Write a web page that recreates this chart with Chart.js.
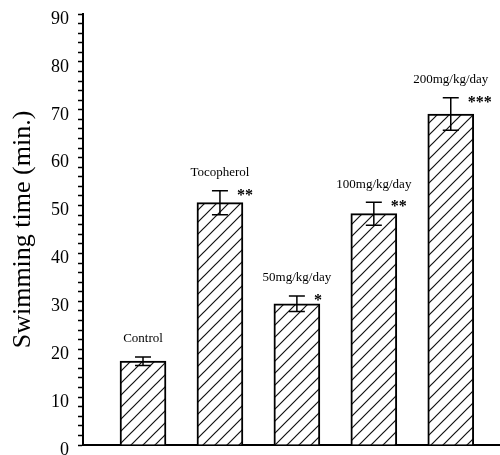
<!DOCTYPE html>
<html>
<head>
<meta charset="utf-8">
<script src="https://cdn.jsdelivr.net/npm/chart.js@4.4.1/dist/chart.umd.min.js"></script>
<style>
  html, body { margin: 0; padding: 0; background: #fff; }
  #wrap { width: 500px; height: 455px; position: relative; }
</style>
</head>
<body>
<div id="wrap"><canvas id="c" width="500" height="455"></canvas></div>
<script>
// ---- data ----
const categories = ['Control', 'Tocopherol', '50mg/kg/day', '100mg/kg/day', '200mg/kg/day'];
const means = [17.5, 50.6, 29.5, 48.3, 69.1];
const errors = [0.9, 2.5, 1.6, 2.4, 3.4];
const significance = ['', '**', '*', '**', '***'];
const yMajorTicks = [0, 10, 20, 30, 40, 50, 60, 70, 80, 90];

// ---- hatch pattern ----
function makeHatch() {
  const s = 12;
  const c = document.createElement('canvas');
  c.width = s; c.height = s;
  const g = c.getContext('2d');
  g.fillStyle = '#fff';
  g.fillRect(0, 0, s, s);
  g.strokeStyle = '#111';
  g.lineWidth = 1.2;
  g.beginPath();
  g.moveTo(-1, s + 1); g.lineTo(s + 1, -1);
  g.moveTo(-1, 1); g.lineTo(1, -1);
  g.moveTo(s - 1, s + 1); g.lineTo(s + 1, s - 1);
  g.stroke();
  return document.getElementById('c').getContext('2d').createPattern(c, 'repeat');
}
const hatch = makeHatch();

const serif = "'Liberation Serif', 'Times New Roman', serif";

const annotatePlugin = {
  id: 'annotate',
  afterDatasetsDraw(chart) {
    const ctx = chart.ctx;
    const xs = chart.scales.x, ys = chart.scales.y;
    ctx.save();
    means.forEach((m, i) => {
      const cx = xs.getPixelForValue(i);
      const top = ys.getPixelForValue(m + errors[i]);
      const bot = ys.getPixelForValue(m - errors[i]);
      ctx.strokeStyle = '#000';
      ctx.lineWidth = 1.5;
      ctx.beginPath();
      ctx.moveTo(cx, top); ctx.lineTo(cx, bot);
      ctx.moveTo(cx - 8, top); ctx.lineTo(cx + 8, top);
      ctx.moveTo(cx - 8, bot); ctx.lineTo(cx + 8, bot);
      ctx.stroke();
      // category label
      ctx.fillStyle = '#000';
      ctx.font = '13px ' + serif;
      ctx.textAlign = 'center';
      ctx.textBaseline = 'middle';
      ctx.fillText(categories[i], cx, top - 18);
      // significance
      if (significance[i]) {
        ctx.font = 'bold 16px ' + serif;
        ctx.textAlign = 'left';
        ctx.textBaseline = 'alphabetic';
        ctx.fillText(significance[i], cx + 17, top + 9);
      }
    });
    ctx.restore();
  }
};

new Chart(document.getElementById('c'), {
  type: 'bar',
  data: {
    datasets: [{
      data: means.map((v, i) => ({ x: i, y: v })),
      backgroundColor: hatch,
      borderColor: '#000',
      borderWidth: 2,
      borderSkipped: 'bottom',
      barThickness: 46
    }]
  },
  options: {
    responsive: false,
    animation: false,
    events: [],
    layout: { autoPadding: false, padding: { top: 14, right: 0, bottom: 10, left: 0 } },
    plugins: { legend: { display: false }, tooltip: { enabled: false } },
    scales: {
      x: {
        type: 'linear',
        offset: false,
        min: -0.78,
        max: 4.64,
        ticks: { display: false },
        grid: { display: false, drawTicks: false, offset: false },
        border: { display: true, color: '#000', width: 2 },
        afterFit(s) { s.height = 0; s.paddingLeft = 0; s.paddingRight = 0; s.paddingTop = 0; s.paddingBottom = 0; }
      },
      y: {
        min: 0,
        max: 90,
        afterBuildTicks(s) {
          const t = [];
          for (let v = 0; v <= 90; v += 2) t.push({ value: v });
          s.ticks = t;
        },
        ticks: {
          autoSkip: false,
          color: '#000',
          font: { family: serif, size: 18 },
          padding: 9,
          labelOffset: 5,
          callback: (v) => yMajorTicks.includes(v) ? String(v) : ''
        },
        grid: {
          drawOnChartArea: false,
          drawTicks: true,
          tickLength: 5,
          tickColor: '#000',
          tickWidth: 1.5
        },
        border: { display: true, color: '#000', width: 2 },
        title: {
          display: true,
          text: 'Swimming time (min.)',
          color: '#000',
          font: { family: serif, size: 26 },
          padding: { top: 8, bottom: 0 }
        },
        afterFit(s) { s.width = 83; s.paddingTop = 0; s.paddingBottom = 0; s.paddingLeft = 0; s.paddingRight = 0; }
      }
    }
  },
  plugins: [annotatePlugin]
});
</script>
</body>
</html>
